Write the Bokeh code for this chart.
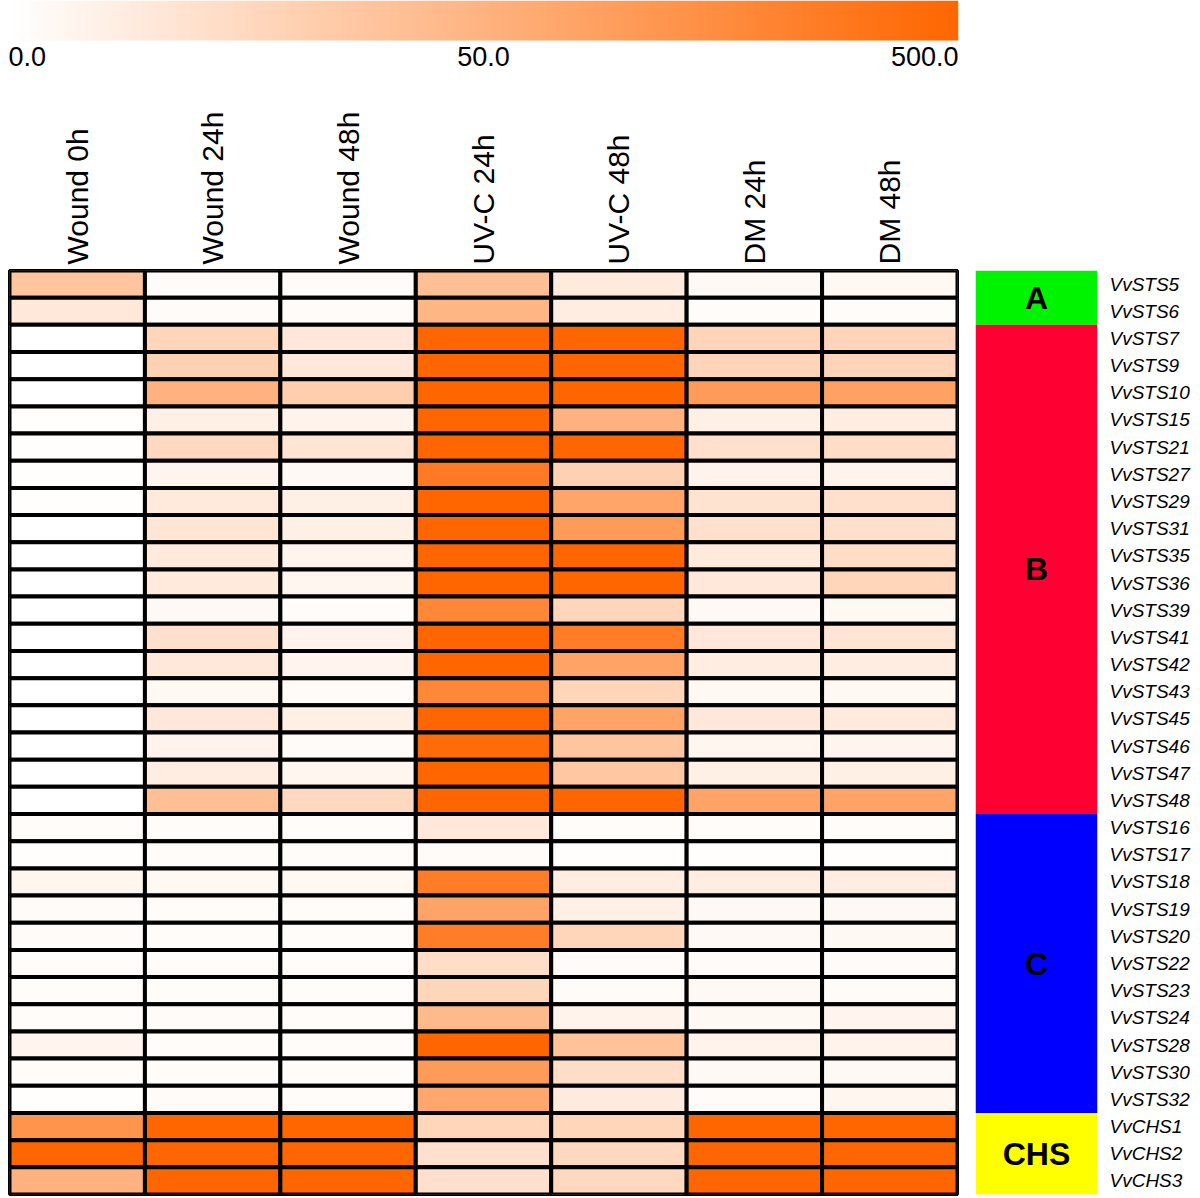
import numpy as np
from bokeh.plotting import figure
from bokeh.models import ColumnDataSource, LinearColorMapper, FactorRange, Range1d
from bokeh.layouts import column, row
from bokeh.core.properties import value, field
from bokeh.embed import file_html
from bokeh.resources import INLINE

# ---------------- data ----------------
conditions = ["Wound 0h", "Wound 24h", "Wound 48h", "UV-C 24h", "UV-C 48h", "DM 24h", "DM 48h"]

genes = ["VvSTS5", "VvSTS6", "VvSTS7", "VvSTS9", "VvSTS10", "VvSTS15", "VvSTS21", "VvSTS27",
         "VvSTS29", "VvSTS31", "VvSTS35", "VvSTS36", "VvSTS39", "VvSTS41", "VvSTS42", "VvSTS43",
         "VvSTS45", "VvSTS46", "VvSTS47", "VvSTS48", "VvSTS16", "VvSTS17", "VvSTS18", "VvSTS19",
         "VvSTS20", "VvSTS22", "VvSTS23", "VvSTS24", "VvSTS28", "VvSTS30", "VvSTS32",
         "VvCHS1", "VvCHS2", "VvCHS3"]

group_names = ["A", "B", "C", "CHS"]
group_sizes = [2, 18, 11, 3]
group_colors = ["#00F400", "#FF0033", "#0000FF", "#FFFF00"]

scale_ticks = [0, 50, 500]
scale_labels = ["0.0", "50.0", "500.0"]

wound_0h  = [38, 15, 0, 0, 0, 1, 1, 1, 1, 0, 0, 0, 0, 0, 0, 0, 0, 0, 0, 0,
             2, 1, 6, 3, 3, 2, 2, 2, 7, 2, 1, 230, 500, 50]
wound_24h = [3, 3, 27, 30, 50, 10, 25, 7, 14, 17, 14, 14, 4, 20, 15, 5, 15, 8, 12, 42,
             2, 2, 5, 2, 2, 2, 2, 3, 2, 2, 3, 500, 500, 500]
wound_48h = [3, 3, 15, 15, 32, 8, 17, 4, 10, 10, 7, 6, 2, 8, 7, 3, 10, 3, 6, 25,
             2, 2, 5, 2, 2, 2, 2, 2, 2, 2, 2, 500, 500, 500]
uvc_24h   = [42, 48, 500, 500, 500, 500, 500, 380, 500, 500, 500, 500, 300, 500, 500, 300,
             500, 470, 500, 500, 15, 3, 365, 140, 365, 22, 27, 45, 500, 185, 120, 27, 20, 20]
uvc_48h   = [14, 12, 500, 500, 500, 52, 500, 30, 130, 185, 500, 500, 27, 365, 140, 27,
             140, 38, 36, 500, 2, 1, 12, 10, 27, 3, 3, 8, 40, 22, 13, 27, 25, 25]
dm_24h    = [4, 2, 28, 28, 190, 10, 20, 8, 18, 20, 14, 15, 4, 15, 12, 5, 15, 6, 10, 140,
             2, 1, 12, 4, 4, 3, 4, 5, 8, 4, 3, 500, 500, 500]
dm_48h    = [5, 2, 28, 28, 150, 12, 22, 8, 20, 20, 22, 27, 5, 17, 12, 5, 14, 7, 10, 140,
             2, 1, 12, 4, 5, 3, 3, 7, 8, 4, 6, 500, 500, 500]

series = [wound_0h, wound_24h, wound_48h, uvc_24h, uvc_48h, dm_24h, dm_48h]

# ---------------- colour scale (0 / 50 / 500 equally spaced) ----------------
tick_pos = np.linspace(0, 1, len(scale_ticks))
palette = ["#%02x%02x%02x" % (255, int(round(255 - 153 * t)), int(round(255 - 255 * t)))
           for t in np.linspace(0, 1, 256)]
mapper = LinearColorMapper(palette=palette, low=0, high=1)

xs, ys, vals, pos = [], [], [], []
for cond, vs in zip(conditions, series):
    for g, v in zip(genes, vs):
        xs.append(cond)
        ys.append(g)
        vals.append(v)
        pos.append(float(np.interp(v, scale_ticks, tick_pos)))
src = ColumnDataSource(dict(cond=xs, gene=ys, val=vals, pos=pos))

FONT = "Liberation Sans"

# ---------------- colour bar figure ----------------
C = figure(width=968, height=82, x_range=Range1d(0, 1), y_range=Range1d(0, 82),
           min_border_left=8, min_border_right=10, min_border_top=0, min_border_bottom=0,
           output_backend="svg", toolbar_location=None)
C.image(image=[np.linspace(0, 1, 256)[None, :]], x=0, y=42, dw=1, dh=40, color_mapper=mapper)
lab_src = ColumnDataSource(dict(x=list(tick_pos), text=scale_labels,
                                align=["left", "center", "right"]))
C.text(x="x", y=36, text="text", source=lab_src, text_align=field("align"),
       text_baseline="top", text_font=value(FONT), text_font_size="27px", text_color="black")
C.axis.visible = False
C.grid.visible = False
C.outline_line_color = None

# ---------------- heatmap figure ----------------
gene_range = FactorRange(*genes[::-1])
H = figure(width=968, height=1116, x_range=FactorRange(*conditions),
           y_range=gene_range, x_axis_location="above",
           min_border_left=9, min_border_right=11, min_border_top=188, min_border_bottom=4,
           output_backend="svg", toolbar_location=None)
H.rect(x="cond", y="gene", width=1, height=1, source=src,
       fill_color={"field": "pos", "transform": mapper},
       line_color="black", line_width=4)
H.yaxis.visible = False
H.grid.visible = False
H.outline_line_color = "black"
H.outline_line_width = 3
H.xaxis.major_label_orientation = "vertical"
H.xaxis.major_label_text_font = FONT
H.xaxis.major_label_text_font_size = "30px"
H.xaxis.major_label_text_color = "black"
H.xaxis.major_tick_out = 0
H.xaxis.major_tick_in = 0
H.xaxis.major_label_standoff = 6
H.xaxis.axis_line_color = None
H.xaxis.major_tick_line_color = None
H.xaxis.minor_tick_line_color = None

# ---------------- group bar + gene labels ----------------
G = figure(width=232, height=1116, x_range=Range1d(0, 1), y_range=gene_range,
           y_axis_location="right",
           min_border_left=7, min_border_right=103, min_border_top=188, min_border_bottom=4,
           output_backend="svg", toolbar_location=None)
starts = list(np.cumsum([0] + group_sizes[:-1]))
first_gene = [genes[int(s)] for s in starts]
last_gene = [genes[int(s) + n - 1] for s, n in zip(starts, group_sizes)]
gsrc = ColumnDataSource(dict(
    top=[(g, 0.5) for g in first_gene],
    bottom=[(g, -0.5) for g in last_gene],
    mid=[(g, -(n - 1) / 2) for g, n in zip(first_gene, group_sizes)],
    name=group_names, color=group_colors))
G.quad(left=0, right=1, top="top", bottom="bottom", fill_color="color", line_color=None,
       source=gsrc)
G.text(x=0.5, y="mid", text="name", source=gsrc,
       text_align="center", text_baseline="middle", text_font=value(FONT),
       text_font_size="32px", text_font_style="bold", text_color="black")
G.xaxis.visible = False
G.grid.visible = False
G.outline_line_color = None
G.yaxis.major_label_text_font = FONT
G.yaxis.major_label_text_font_style = "italic"
G.yaxis.major_label_text_font_size = "19px"
G.yaxis.major_label_text_color = "black"
G.yaxis.major_tick_out = 0
G.yaxis.major_tick_in = 0
G.yaxis.major_label_standoff = 12
G.yaxis.axis_line_color = None
G.yaxis.major_tick_line_color = None
G.yaxis.minor_tick_line_color = None

layout = column(C, row(H, G))
open("out.html", "w").write(file_html(layout, INLINE))
